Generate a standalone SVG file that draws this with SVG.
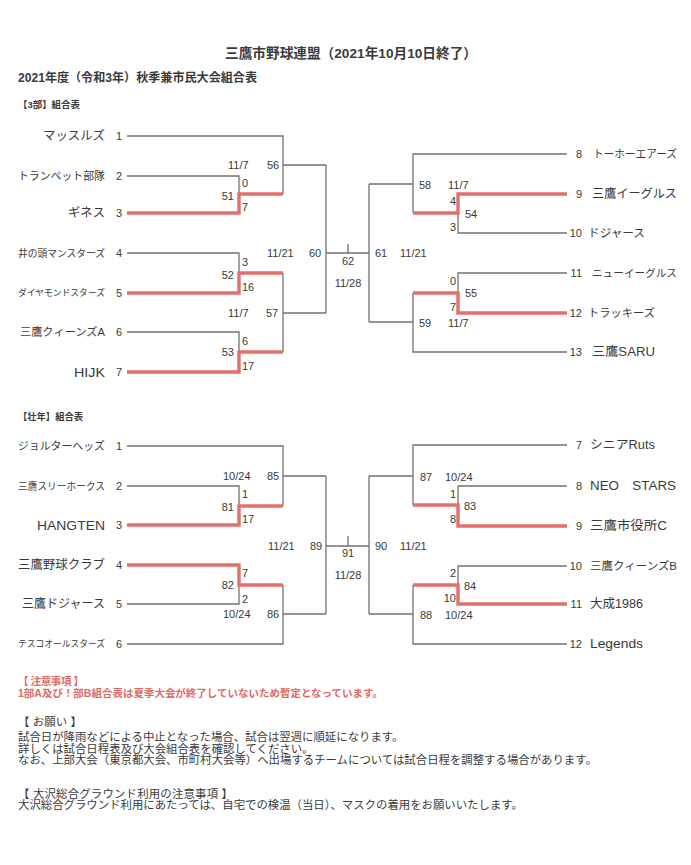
<svg xmlns="http://www.w3.org/2000/svg" width="691" height="865" viewBox="0 0 691 865">
<style>
text{font-family:"Liberation Sans","Noto Sans CJK JP",sans-serif;fill:#3a3a3a;dominant-baseline:central}
.h{font-weight:bold}
.nl{text-anchor:end}
.num{font-size:11px}
.sc{font-size:11px}
.mid{text-anchor:middle}
.end{text-anchor:end}
.note{font-size:11.4px}
.red{fill:#e06a66}
.ln{fill:none;stroke:#727272;stroke-width:1.3}
.win{fill:none;stroke:#e2706c;stroke-width:3.4;stroke-linejoin:miter}
</style>
<rect width="691" height="865" fill="#ffffff"/>
<g id="header">
<text class="h" x="225" y="53" font-size="13.5" textLength="252" lengthAdjust="spacingAndGlyphs">三鷹市野球連盟（2021年10月10日終了）</text>
<text class="h" x="18" y="78" font-size="12" textLength="239" lengthAdjust="spacingAndGlyphs">2021年度（令和3年）秋季兼市民大会組合表</text>
<text class="h" x="18" y="104" font-size="9.5" textLength="62" lengthAdjust="spacingAndGlyphs">【3部】組合表</text>
<text class="h" x="18" y="416" font-size="9.5" textLength="65" lengthAdjust="spacingAndGlyphs">【壮年】組合表</text>
</g>
<g id="connectors">
<path class="ln" d="M127,136H283V194M127,176H239V194M283,165H326M127,253H239V273M283,273V352M127,332H239V352M283,313H326M326,165V313M326,253H369M348,244V253M369,184V322M369,184H413M369,322H413M567,154H413V213M567,233H458V213M567,273H458V293M567,352H413V293"/>
<path class="ln" d="M127,446H283V506M127,486H239V506M283,476H326M127,604H239V585M127,644H283V585M283,614H326M326,476V614M326,546H369M348,536V546M369,476V614M369,476H413M369,614H413M567,445H413V505M567,486H458V505M567,566H458V585M567,644H413V585"/>
<path class="win" d="M127,213H239V194H283M127,293H239V273H283M127,372H239V352H283M413,213H458V194H567M413,293H458V313H567"/>
<path class="win" d="M127,525H239V506H283M127,565H239V585H283M413,505H458V526H567M413,585H458V604H567"/>
</g>
<g id="teams-3bu">
<g id="t3-1"><text class="nl" x="105" y="136" font-size="12.5" textLength="62" lengthAdjust="spacingAndGlyphs">マッスルズ</text><text class="num mid" x="119" y="136">1</text></g>
<g id="t3-2"><text class="nl" x="105" y="176" font-size="11" textLength="87" lengthAdjust="spacingAndGlyphs">トランペット部隊</text><text class="num mid" x="119" y="176">2</text></g>
<g id="t3-3"><text class="nl" x="105" y="213" font-size="12.5" textLength="37" lengthAdjust="spacingAndGlyphs">ギネス</text><text class="num mid" x="119" y="213">3</text></g>
<g id="t3-4"><text class="nl" x="105" y="253" font-size="9.7" textLength="87" lengthAdjust="spacingAndGlyphs">井の頭マンスターズ</text><text class="num mid" x="119" y="253">4</text></g>
<g id="t3-5"><text class="nl" x="105" y="293" font-size="8.7" textLength="87" lengthAdjust="spacingAndGlyphs">ダイヤモンドスターズ</text><text class="num mid" x="119" y="293">5</text></g>
<g id="t3-6"><text class="nl" x="105" y="332" font-size="11" textLength="85" lengthAdjust="spacingAndGlyphs">三鷹クィーンズA</text><text class="num mid" x="119" y="332">6</text></g>
<g id="t3-7"><text class="nl" x="105" y="372" font-size="13" textLength="31" lengthAdjust="spacingAndGlyphs">HIJK</text><text class="num mid" x="119" y="372">7</text></g>
<g id="t3-8"><text class="num end" x="582" y="154">8</text><text x="593" y="154" font-size="11" textLength="84" lengthAdjust="spacingAndGlyphs">トーホーエアーズ</text></g>
<g id="t3-9"><text class="num end" x="582" y="194">9</text><text x="592" y="194" font-size="12" textLength="85" lengthAdjust="spacingAndGlyphs">三鷹イーグルス</text></g>
<g id="t3-10"><text class="num end" x="582" y="233">10</text><text x="588" y="233" font-size="11.5" textLength="57" lengthAdjust="spacingAndGlyphs">ドジャース</text></g>
<g id="t3-11"><text class="num end" x="582" y="273">11</text><text x="592" y="273" font-size="10.7" textLength="85" lengthAdjust="spacingAndGlyphs">ニューイーグルス</text></g>
<g id="t3-12"><text class="num end" x="582" y="313">12</text><text x="588" y="313" font-size="11.3" textLength="67" lengthAdjust="spacingAndGlyphs">トラッキーズ</text></g>
<g id="t3-13"><text class="num end" x="582" y="352">13</text><text x="592" y="352" font-size="12.5" textLength="63" lengthAdjust="spacingAndGlyphs">三鷹SARU</text></g>
</g>
<g id="scores-3bu">
<text class="sc" x="228" y="165">11/7</text><text class="sc" x="267" y="165">56</text>
<text class="sc" x="242" y="183">0</text><text class="sc end" x="234" y="196">51</text><text class="sc" x="242" y="207">7</text>
<text class="sc" x="242" y="262">3</text><text class="sc end" x="234" y="275">52</text><text class="sc" x="242" y="287">16</text>
<text class="sc" x="228" y="313">11/7</text><text class="sc" x="266" y="313">57</text>
<text class="sc" x="242" y="341">6</text><text class="sc end" x="234" y="352">53</text><text class="sc" x="242" y="366">17</text>
<text class="sc" x="267" y="253">11/21</text><text class="sc" x="309" y="253">60</text>
<text class="sc mid" x="348" y="261">62</text><text class="sc mid" x="348" y="283">11/28</text>
<text class="sc" x="375" y="253">61</text><text class="sc" x="400" y="253">11/21</text>
<text class="sc" x="419" y="185">58</text><text class="sc" x="448" y="185">11/7</text>
<text class="sc end" x="456" y="201">4</text><text class="sc" x="465" y="214">54</text><text class="sc end" x="456" y="227">3</text>
<text class="sc end" x="456" y="281">0</text><text class="sc" x="465" y="293">55</text><text class="sc end" x="456" y="307">7</text>
<text class="sc" x="419" y="323">59</text><text class="sc" x="448" y="323">11/7</text>
</g>
<g id="teams-sonen">
<g id="ts-1"><text class="nl" x="105" y="446" font-size="11" textLength="87" lengthAdjust="spacingAndGlyphs">ジョルターヘッズ</text><text class="num mid" x="119" y="446">1</text></g>
<g id="ts-2"><text class="nl" x="105" y="486" font-size="9.7" textLength="87" lengthAdjust="spacingAndGlyphs">三鷹スリーホークス</text><text class="num mid" x="119" y="486">2</text></g>
<g id="ts-3"><text class="nl" x="105" y="525" font-size="13" textLength="68" lengthAdjust="spacingAndGlyphs">HANGTEN</text><text class="num mid" x="119" y="525">3</text></g>
<g id="ts-4"><text class="nl" x="105" y="565" font-size="12.4" textLength="87" lengthAdjust="spacingAndGlyphs">三鷹野球クラブ</text><text class="num mid" x="119" y="565">4</text></g>
<g id="ts-5"><text class="nl" x="105" y="604" font-size="12" textLength="83" lengthAdjust="spacingAndGlyphs">三鷹ドジャース</text><text class="num mid" x="119" y="604">5</text></g>
<g id="ts-6"><text class="nl" x="105" y="644" font-size="8.7" textLength="87" lengthAdjust="spacingAndGlyphs">テスコオールスターズ</text><text class="num mid" x="119" y="644">6</text></g>
<g id="ts-7"><text class="num end" x="582" y="445">7</text><text x="590" y="445" font-size="12.5" textLength="65" lengthAdjust="spacingAndGlyphs">シニアRuts</text></g>
<g id="ts-8"><text class="num end" x="582" y="486">8</text><text x="590" y="486" font-size="12.5" textLength="86" lengthAdjust="spacingAndGlyphs">NEO　STARS</text></g>
<g id="ts-9"><text class="num end" x="582" y="526">9</text><text x="590" y="526" font-size="12.5" textLength="77" lengthAdjust="spacingAndGlyphs">三鷹市役所C</text></g>
<g id="ts-10"><text class="num end" x="582" y="566">10</text><text x="590" y="566" font-size="11" textLength="87" lengthAdjust="spacingAndGlyphs">三鷹クィーンズB</text></g>
<g id="ts-11"><text class="num end" x="582" y="604">11</text><text x="590" y="604" font-size="12.5" textLength="53" lengthAdjust="spacingAndGlyphs">大成1986</text></g>
<g id="ts-12"><text class="num end" x="582" y="644">12</text><text x="590" y="644" font-size="12.5" textLength="53" lengthAdjust="spacingAndGlyphs">Legends</text></g>
</g>
<g id="scores-sonen">
<text class="sc" x="223" y="476">10/24</text><text class="sc" x="267" y="476">85</text>
<text class="sc" x="242" y="494">1</text><text class="sc end" x="234" y="507">81</text><text class="sc" x="242" y="519">17</text>
<text class="sc" x="242" y="573">7</text><text class="sc end" x="234" y="585">82</text><text class="sc" x="242" y="599">2</text>
<text class="sc" x="223" y="614">10/24</text><text class="sc" x="267" y="614">86</text>
<text class="sc" x="268" y="546">11/21</text><text class="sc" x="310" y="546">89</text>
<text class="sc mid" x="348" y="553">91</text><text class="sc mid" x="348" y="575">11/28</text>
<text class="sc" x="375" y="546">90</text><text class="sc" x="400" y="546">11/21</text>
<text class="sc" x="420" y="477">87</text><text class="sc" x="445" y="477">10/24</text>
<text class="sc end" x="456" y="494">1</text><text class="sc" x="464" y="506">83</text><text class="sc end" x="456" y="519">8</text>
<text class="sc end" x="456" y="573">2</text><text class="sc" x="464" y="586">84</text><text class="sc end" x="456" y="598">10</text>
<text class="sc" x="420" y="615">88</text><text class="sc" x="445" y="615">10/24</text>
</g>
<g id="notes">
<text class="red h" x="18" y="681" font-size="10.5" textLength="66" lengthAdjust="spacing">【 注意事項 】</text>
<text class="red h" x="18" y="693" font-size="10.5" textLength="365" lengthAdjust="spacingAndGlyphs">1部A及び！部B組合表は夏季大会が終了していないため暫定となっています。</text>
<text class="note" x="18" y="722" textLength="64" lengthAdjust="spacing">【 お願い 】</text>
<text class="note" x="18" y="737">試合日が降雨などによる中止となった場合、試合は翌週に順延になります。</text>
<text class="note" x="18" y="749">詳しくは試合日程表及び大会組合表を確認してください。</text>
<text class="note" x="18" y="760">なお、上部大会（東京都大会、市町村大会等）へ出場するチームについては試合日程を調整する場合があります。</text>
<text class="note" x="18" y="794" textLength="215" lengthAdjust="spacing">【 大沢総合グラウンド利用の注意事項 】</text>
<text class="note" x="18" y="805">大沢総合グラウンド利用にあたっては、自宅での検温（当日）、マスクの着用をお願いいたします。</text>
</g>
</svg>
